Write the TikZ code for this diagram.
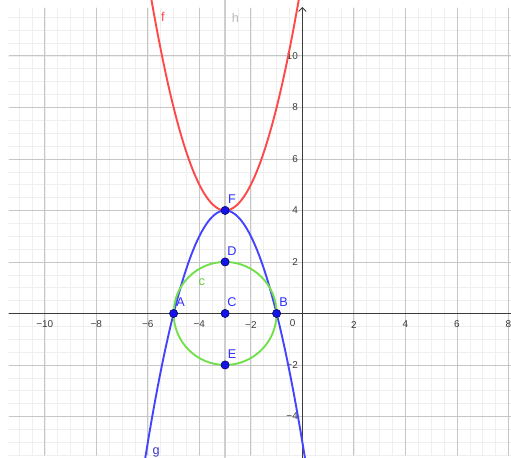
\documentclass[tikz,border=0pt]{standalone}
\usepackage{fontspec}
\setmainfont{Liberation Sans}
\usetikzlibrary{arrows.meta}
\definecolor{minorgray}{HTML}{EFEFEF}
\definecolor{majorgray}{HTML}{C6C6C6}
\definecolor{hgray}{HTML}{CFCFCF}
\definecolor{axisgray}{HTML}{3C3C3C}
\definecolor{fred}{HTML}{FF4848}
\definecolor{gblue}{HTML}{4444FF}
\definecolor{cgreen}{HTML}{72E04C}
\definecolor{ptblue}{HTML}{1414E8}
\definecolor{labblue}{HTML}{2E2EFF}
\tikzset{
  pt/.style={circle, fill=ptblue, draw=black!65!blue, line width=0.6pt, inner sep=0pt, minimum size=3.2mm},
  ptlab/.style={text=labblue, font=\fontsize{14}{15}\selectfont, inner sep=0pt},
  ticklab/.style={text=axisgray, font=\fontsize{11}{12}\selectfont, inner sep=0pt},
  curve/.style={line width=2.1pt, smooth, samples=90}
}
\begin{document}
\begin{tikzpicture}[line join=round, line cap=round, >={Straight Barb[length=1.5mm,width=3mm]}]
	\useasboundingbox (-11.74,-5.58) rectangle (8.10,12.17);
	\clip (-11.74,-5.58) rectangle (8.10,12.17);
	% grid
	\draw[minorgray, line width=0.6pt, step=0.5] (-11.39,-5.5) grid (8.2,11.86);
	\draw[majorgray, line width=0.9pt, step=2] (-11.39,-5.5) grid (8.2,11.86);
	% line h
	\draw[hgray, line width=2.2pt] (-3,-5.58) -- (-3,12.17);
	% axes
	\draw[axisgray, line width=1pt] (-11.39,0) -- (8.2,0);
	\draw[axisgray, line width=1pt, ->] (0,-5.7) -- (0,11.9);
	\foreach \x/\t in {-10/−10, -8/−8, -6/−6, -4/−4, -2/−2, 2/2, 4/4, 6/6, 8/8}
		\node[ticklab] (xt\x) at (\x,-0.43) {\t};
	\foreach \y/\t in {-4/−4, -2/−2, 2/2, 4/4, 6/6, 8/8, 10/10}
		\node[ticklab, anchor=east] (yt\y) at (-0.17,\y) {\t};
	\node[ticklab] (ot) at (-0.38,-0.38) {0};
	% f, g, c
	\draw[fred, curve, domain=-6.1:0.1] plot (\x, {(\x+3)^2+4});
	\draw[gblue, curve, domain=-6.3:0.3] plot (\x, {4-(\x+3)^2});
	\draw[cgreen, line width=2.1pt] (-3,0) circle (2);
	\node[text=fred, font=\fontsize{14}{15}\selectfont] (flab) at (-5.42,11.52) {f};
	\node[text=hgray!90!black, font=\fontsize{14}{15}\selectfont] (hlab) at (-2.6,11.47) {h};
	\node[text=gblue!80!black, font=\fontsize{14}{15}\selectfont] (glab) at (-5.68,-5.4) {g};
	\node[text=cgreen!90!black, font=\fontsize{14}{15}\selectfont] (clab) at (-3.91,1.2) {c};
	% points
	\foreach \n/\px/\py in {A/-5/0, B/-1/0, C/-3/0, D/-3/2, E/-3/-2, F/-3/4}
	{
		\node[pt] (\n) at (\px,\py) {};
		\node[ptlab] (lab\n) at (\px+0.27,\py+0.43) {\n};
	}
\end{tikzpicture}
\end{document}
